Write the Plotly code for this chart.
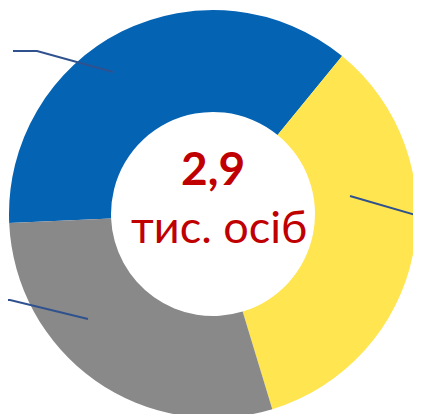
import plotly.graph_objects as go

# Data
categories = ["Група 1", "Група 2", "Група 3"]
shares = [36.6, 34.4, 29.0]
total_label = "2,9"
unit_label = "тис. осіб"

colors = ["#0563B4", "#FFE54F", "#898989"]
W, H = 421, 414
OFF = 8  # page body margin offset


def px(x, y):
    return (x - OFF) / W, 1 - (y - OFF) / H


cx, cy, R = 213, 214, 204
x0, y0 = px(cx - R, cy - R)
x1, y1 = px(cx + R, cy + R)

fig = go.Figure(go.Pie(
    labels=categories,
    values=shares,
    hole=0.5,
    sort=False,
    direction="clockwise",
    rotation=267.5,
    marker=dict(colors=colors, line=dict(width=0)),
    textinfo="none",
    hoverinfo="label+percent",
    domain=dict(x=[max(0, x0), min(1, x1)], y=[max(0, y1), min(1, y0)]),
    showlegend=False,
))

# leader lines (labels lie outside the visible area)
leaders = [
    [(113, 72), (37, 51), (13, 51)],
    [(350, 196), (440, 222)],
    [(88, 319), (10, 300), (-5, 300)],
]
for path in leaders:
    d = "M " + " L ".join("{},{}".format(*px(x, y)) for x, y in path)
    fig.add_shape(type="path", path=d, xref="paper", yref="paper",
                  line=dict(color="#2F528F", width=2))

ax, ay = px(213, 168)
fig.add_annotation(text=f"<b>{total_label}</b>", x=ax, y=ay,
                   xref="paper", yref="paper", showarrow=False,
                   font=dict(family="Lato", size=46, color="#C00000"),
                   xanchor="center", yanchor="middle")
bx, by = px(219, 226)
fig.add_annotation(text=unit_label, x=bx, y=by,
                   xref="paper", yref="paper", showarrow=False,
                   font=dict(family="Lato", size=45, color="#C00000"),
                   xanchor="center", yanchor="middle")

fig.update_layout(width=W, height=H, margin=dict(l=0, r=0, t=0, b=0),
                  paper_bgcolor="white", plot_bgcolor="white")
fig.write_html("out.html")
